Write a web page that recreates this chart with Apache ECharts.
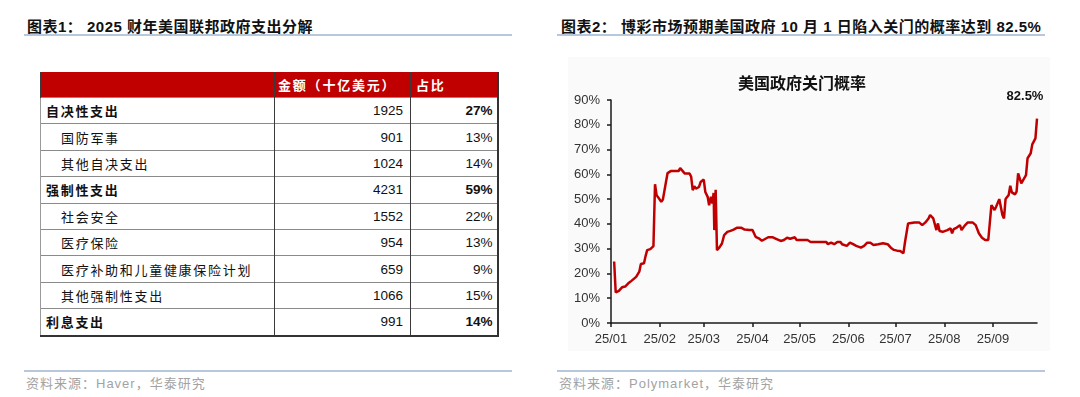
<!DOCTYPE html>
<html>
<head>
<meta charset="utf-8">
<script src="https://cdn.jsdelivr.net/npm/echarts@6.0.0/dist/echarts.min.js"></script>
<style>
  html, body { margin: 0; padding: 0; background: #fff; }
  body {
    width: 1080px; height: 397px; position: relative; overflow: hidden;
    font-family: "Liberation Sans", Arial, "Noto Sans CJK SC", sans-serif;
  }
  .title {
    position: absolute; top: 18px; font-size: 15px; font-weight: bold; color: #111;
    letter-spacing: 0.5px; white-space: nowrap; line-height: 18px;
  }
  .rule { position: absolute; height: 2px; background: #b7c7dc; }
  .source {
    position: absolute; top: 376px; font-size: 13px; color: #a3a3a3;
    letter-spacing: 1px; white-space: nowrap; line-height: 16px;
  }
  #spend {
    position: absolute; left: 40px; top: 72px; width: 457px;
    border-collapse: collapse; table-layout: fixed;
    border-right: 2px solid #333; border-bottom: 2px solid #333;
  }
  #spend th {
    background: #c00000; color: #fff; font-weight: bold; text-align: left;
    height: 25px; padding: 0 0 0 3px; font-size: 13px; letter-spacing: 1.8px;
    border-left: 1px solid #3a3a3a;
  }
  #spend td {
    height: 25.4px; padding: 0; border-top: 1px solid #8a8a8a; border-left: 1px solid #3a3a3a;
    font-size: 13px; color: #111; white-space: nowrap;
  }
  #spend td.name { letter-spacing: 1.7px; padding-left: 20px; border-left: 1px solid #9a9a9a; }
  #spend td.name.top { padding-left: 5px; font-weight: bold; }
  #spend td.num { text-align: right; padding-right: 7px; font-size: 13.5px; }
  #spend td.pct { text-align: right; padding-right: 4px; font-size: 13.5px; }
  #spend tr.top td.pct { font-weight: bold; }
  #chart { position: absolute; left: 568px; top: 57px; width: 482px; height: 294px; }
</style>
</head>
<body>
<div class="title" style="left:27px">图表1：&nbsp;2025 财年美国联邦政府支出分解</div>
<div class="rule" style="left:24px; top:34px; width:488px"></div>
<table id="spend">
  <colgroup><col style="width:234px"><col style="width:136px"><col style="width:87px"></colgroup>
  <thead><tr><th></th><th>金额（十亿美元）</th><th style="padding-left:5px">占比</th></tr></thead>
  <tbody></tbody>
</table>
<div class="rule" style="left:24px; top:370px; width:488px"></div>
<div class="source" style="left:26px">资料来源：Haver，华泰研究</div>

<div class="title" style="left:561px">图表2：&nbsp;博彩市场预期美国政府 10 月 1 日陷入关门的概率达到 82.5%</div>
<div class="rule" style="left:557px; top:34px; width:488px"></div>
<div id="chart"></div>
<div class="rule" style="left:557px; top:370px; width:488px"></div>
<div class="source" style="left:559px">资料来源：Polymarket，华泰研究</div>

<script>
// 表1：2025财年联邦支出（十亿美元）
const spendItems = ['自决性支出', '国防军事', '其他自决支出', '强制性支出', '社会安全', '医疗保险', '医疗补助和儿童健康保险计划', '其他强制性支出', '利息支出']
const spendLevels = [0, 1, 1, 0, 1, 1, 1, 1, 0]
const spendAmounts = [1925, 901, 1024, 4231, 1552, 954, 659, 1066, 991]
const spendShares = ['27%', '13%', '14%', '59%', '22%', '13%', '9%', '15%', '14%']

// 图2：Polymarket 政府关门概率（%）
const shutdownDates = [
  '2025-01-03', '2025-01-04', '2025-01-06', '2025-01-08', '2025-01-10', '2025-01-12', '2025-01-14', '2025-01-15',
  '2025-01-17', '2025-01-19', '2025-01-20', '2025-01-22', '2025-01-23', '2025-01-24', '2025-01-26', '2025-01-28',
  '2025-01-29', '2025-01-30', '2025-01-31', '2025-02-02', '2025-02-03', '2025-02-05', '2025-02-06', '2025-02-08',
  '2025-02-13', '2025-02-14', '2025-02-17', '2025-02-18', '2025-02-20', '2025-02-21', '2025-02-22', '2025-02-23',
  '2025-02-24', '2025-02-26', '2025-02-27', '2025-03-01', '2025-03-02', '2025-03-03T12:00', '2025-03-04T10:00',
  '2025-03-05T14:00', '2025-03-06T12:00', '2025-03-07T07:00', '2025-03-07T17:00', '2025-03-08T14:00',
  '2025-03-09T10:00', '2025-03-11', '2025-03-12T14:00', '2025-03-14', '2025-03-16', '2025-03-18', '2025-03-20',
  '2025-03-22', '2025-03-25', '2025-03-27', '2025-03-30', '2025-04-01', '2025-04-03', '2025-04-05', '2025-04-07',
  '2025-04-11', '2025-04-14', '2025-04-16', '2025-04-19', '2025-04-21', '2025-04-23', '2025-04-25', '2025-04-28',
  '2025-04-29', '2025-05-02', '2025-05-06', '2025-05-08', '2025-05-12', '2025-05-18', '2025-05-19', '2025-05-21',
  '2025-05-23', '2025-05-25', '2025-05-27', '2025-05-28', '2025-05-31', '2025-06-01', '2025-06-02', '2025-06-04',
  '2025-06-06', '2025-06-09', '2025-06-11', '2025-06-13', '2025-06-15', '2025-06-17', '2025-06-20', '2025-06-23',
  '2025-06-24', '2025-06-26', '2025-06-28', '2025-06-30', '2025-07-02', '2025-07-04', '2025-07-06', '2025-07-07',
  '2025-07-09', '2025-07-10', '2025-07-13', '2025-07-14', '2025-07-16', '2025-07-18', '2025-07-20', '2025-07-22',
  '2025-07-23', '2025-07-25', '2025-07-27', '2025-07-28', '2025-07-29', '2025-07-31', '2025-08-03', '2025-08-05',
  '2025-08-06', '2025-08-07', '2025-08-09', '2025-08-11', '2025-08-12', '2025-08-14', '2025-08-16', '2025-08-19',
  '2025-08-21', '2025-08-23', '2025-08-25', '2025-08-27', '2025-08-29', '2025-08-31', '2025-09-02', '2025-09-03',
  '2025-09-05', '2025-09-06', '2025-09-07', '2025-09-08', '2025-09-09', '2025-09-11', '2025-09-12', '2025-09-13',
  '2025-09-15', '2025-09-16', '2025-09-17', '2025-09-19', '2025-09-20', '2025-09-22', '2025-09-23', '2025-09-25',
  '2025-09-26', '2025-09-28', '2025-09-29'
]
const shutdownProb = [
  24.8, 12.3, 13.0, 14.4, 14.7, 16.0, 17.0, 17.6,
  18.6, 20.7, 23.8, 24.1, 27.0, 29.4, 29.8, 31.0,
  56.0, 51.6, 51.2, 48.9, 49.8, 57.0, 60.5, 61.3,
  61.3, 62.5, 60.3, 60.8, 60.3, 59.0, 53.6, 55.2,
  54.2, 54.9, 56.9, 57.9, 52.9, 50.9, 47.5,
  50.9, 48.2, 52.5, 37.5, 53.8,
  29.4, 30.5, 32.1, 35.5, 36.8, 37.2, 37.7,
  38.4, 38.4, 37.7, 37.5, 37.5, 34.8, 34.2, 33.2,
  34.6, 34.6, 34.0, 33.1, 33.5, 34.4, 34.0, 34.6,
  33.5, 33.5, 33.5, 32.7, 32.7, 32.7, 31.8, 32.4,
  31.8, 32.7, 32.7, 31.8, 31.1, 31.4, 32.4, 31.8,
  31.1, 30.4, 31.1, 32.4, 32.4, 31.5, 31.8, 32.2,
  32.4, 31.8, 30.4, 29.5, 29.2, 29.1, 28.1, 32.5,
  40.2, 39.8, 40.6, 40.0, 40.6, 39.5, 40.6, 42.2,
  43.6, 42.2, 37.5, 40.2, 37.1, 36.8, 37.5, 38.2,
  36.2, 37.9, 38.5, 39.5, 37.5, 39.3, 40.6, 40.6,
  39.5, 36.2, 34.4, 33.5, 33.5, 47.6, 45.6, 46.9,
  50.0, 50.3, 43.6, 42.2, 50.0, 51.7, 55.4, 52.7,
  51.9, 53.0, 60.4, 56.4, 56.0, 59.7, 66.5, 68.5,
  72.1, 74.5, 82.5
]
const monthTicks = ['2025-01-01', '2025-02-01', '2025-03-01', '2025-04-01', '2025-05-01',
  '2025-06-01', '2025-07-01', '2025-08-01', '2025-09-01']

// 表格
const tbody = document.querySelector('#spend tbody')
spendItems.forEach((name, i) => {
  const tr = document.createElement('tr')
  if (spendLevels[i] === 0) tr.className = 'top'
  tr.innerHTML = '<td class="name' + (spendLevels[i] === 0 ? ' top' : '') + '">' + name + '</td>' +
    '<td class="num">' + spendAmounts[i] + '</td>' +
    '<td class="pct">' + spendShares[i] + '</td>'
  tbody.appendChild(tr)
})

// 折线图（x 轴用时间戳的数值轴）
const toTime = s => +new Date((s.length === 10 ? s + 'T00:00' : s) + ':00Z')
const chart = echarts.init(document.getElementById('chart'))
const lastIdx = shutdownDates.length - 1
const tickValues = monthTicks.map(toTime)
const axisFont = { fontFamily: '"Liberation Sans", Arial, sans-serif', fontSize: 13, color: '#333' }

chart.setOption({
  animation: false,
  backgroundColor: '#fafafa',
  title: {
    text: '美国政府关门概率',
    left: 170,
    top: 18,
    padding: 0,
    textStyle: { fontFamily: '"Noto Sans CJK SC", sans-serif', fontSize: 16, fontWeight: 'bold', color: '#111' }
  },
  grid: { left: 43, right: 13, top: 43, bottom: 28, containLabel: false, outerBoundsMode: 'none' },
  xAxis: {
    type: 'value',
    min: tickValues[0],
    max: toTime(shutdownDates[lastIdx]),
    axisLine: { lineStyle: { color: '#1a1a1a', width: 1.5 } },
    axisTick: { show: true, length: 4, lineStyle: { color: '#1a1a1a', width: 1.5 }, customValues: tickValues },
    axisLabel: Object.assign({}, axisFont, {
      margin: 10,
      hideOverlap: false,
      showMinLabel: true,
      showMaxLabel: true,
      customValues: tickValues,
      formatter: v => {
        const d = new Date(v)
        return String(d.getUTCFullYear()).slice(2) + '/' + String(d.getUTCMonth() + 1).padStart(2, '0')
      }
    }),
    splitLine: { show: false }
  },
  yAxis: {
    type: 'value',
    min: 0,
    max: 90,
    interval: 10,
    axisLine: { show: true, lineStyle: { color: '#1a1a1a', width: 1.5 } },
    axisTick: { show: true, length: 4, lineStyle: { color: '#1a1a1a', width: 1.5 } },
    axisLabel: Object.assign({}, axisFont, { margin: 11, formatter: '{value}%' }),
    splitLine: { show: false }
  },
  series: [{
    type: 'line',
    data: shutdownDates.map((d, i) => [toTime(d), shutdownProb[i]]),
    showSymbol: false,
    lineStyle: { color: '#c00000', width: 2.5 },
    itemStyle: { color: '#c00000' },
    markPoint: {
      symbol: 'circle',
      symbolSize: 1,
      itemStyle: { color: 'rgba(0,0,0,0)' },
      label: {
        show: true,
        position: 'top',
        offset: [-12, -10],
        fontFamily: '"Liberation Sans", Arial, sans-serif',
        fontSize: 13,
        fontWeight: 'bold',
        color: '#111',
        formatter: p => p.value.toFixed(1) + '%'
      },
      data: [{ coord: [toTime(shutdownDates[lastIdx]), shutdownProb[lastIdx]], value: shutdownProb[lastIdx] }]
    }
  }]
})
</script>
</body>
</html>
